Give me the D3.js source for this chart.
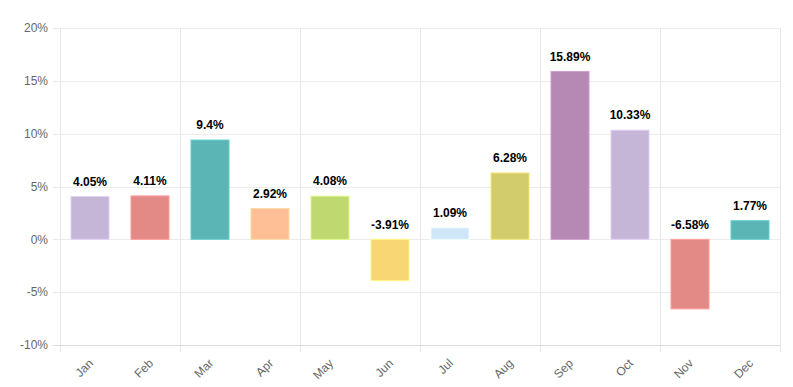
<!DOCTYPE html>
<html lang="en">
<head>
	<meta charset="utf-8">
	<title>monthly change</title>
	<style>
		html, body { margin: 0; padding: 0; background: #fff; }
		svg { display: block; font-family: "Liberation Sans", Arial, sans-serif; }
	</style>
</head>
<body>
	<script src="https://cdn.jsdelivr.net/npm/d3@7"></script>
	<script>

		const months = ["Jan", "Feb", "Mar", "Apr", "May", "Jun", "Jul", "Aug", "Sep", "Oct", "Nov", "Dec"];
		const values = [4.05, 4.11, 9.4, 2.92, 4.08, -3.91, 1.09, 6.28, 15.89, 10.33, -6.58, 1.77];
		const colors = ["#c5b6d8", "#e38a87", "#5bb5b5", "#ffbf94", "#bfd86f", "#f7d673",
			"#cfe6f8", "#d2cc6d", "#b688b4", "#c5b6d8", "#e38a87", "#5bb5b5"];
		const yTicks = [-10, -5, 0, 5, 10, 15, 20];

		const width = 793, height = 387;
		const plotLeft = 60, plotRight = 780, plotTop = 28, plotBottom = 345;

		const svg = d3.select(document.body)
			.append("svg")
			.attr("width", width)
			.attr("height", height);

		const x = d3.scaleBand()
			.domain(months)
			.range([plotLeft, plotRight])
			.paddingInner(0.366)
			.paddingOuter(0.183);

		const y = d3.scaleLinear()
			.domain([-10, 20])
			.range([plotBottom, plotTop]);

		// horizontal grid + y labels
		const gy = svg.append("g");
		gy.selectAll("line")
			.data(yTicks)
			.join("line")
			.attr("x1", plotLeft - 7)
			.attr("x2", plotRight)
			.attr("y1", (d) => Math.round(y(d)) + 0.5)
			.attr("y2", (d) => Math.round(y(d)) + 0.5)
			.attr("stroke", (d) => d === -10 ? "#dcdcdc" : "#ececec")
			.attr("stroke-width", 1);
		gy.selectAll("text")
			.data(yTicks)
			.join("text")
			.attr("x", plotLeft - 12)
			.attr("y", (d) => y(d))
			.attr("dy", "0.35em")
			.attr("text-anchor", "end")
			.attr("font-size", 12)
			.attr("fill", "#666")
			.text((d) => d + "%");

		// vertical grid every second month
		const step = x.step();
		const vx = d3.range(0, 13, 2).map((i) => plotLeft + i * step);
		svg.append("g").selectAll("line")
			.data(vx)
			.join("line")
			.attr("x1", (d) => Math.round(d) + 0.5)
			.attr("x2", (d) => Math.round(d) + 0.5)
			.attr("y1", plotTop)
			.attr("y2", plotBottom + 7)
			.attr("stroke", "#e6e6e6")
			.attr("stroke-width", 1);

		// bars
		svg.append("g").selectAll("rect")
			.data(values)
			.join("rect")
			.attr("x", (d, i) => x(months[i]))
			.attr("width", x.bandwidth())
			.attr("y", (d) => Math.min(y(d), y(0)))
			.attr("height", (d) => Math.abs(y(d) - y(0)))
			.attr("fill", (d, i) => colors[i])
			.attr("stroke", (d, i) => d3.color(colors[i]).brighter(0.4))
			.attr("stroke-width", 1);

		// value labels
		svg.append("g").selectAll("text")
			.data(values)
			.join("text")
			.attr("x", (d, i) => x(months[i]) + x.bandwidth() / 2)
			.attr("y", (d) => Math.min(y(d), y(0)) - 15)
			.attr("dy", "0.35em")
			.attr("text-anchor", "middle")
			.attr("font-size", 12)
			.attr("font-weight", "bold")
			.attr("fill", "#000")
			.text((d) => d + "%");

		// month labels
		svg.append("g").selectAll("text")
			.data(months)
			.join("text")
			.attr("transform", (d) => `translate(${x(d) + x.bandwidth() / 2 + 1},${plotBottom + 16}) rotate(-45)`)
			.attr("text-anchor", "end")
			.attr("dy", "0.35em")
			.attr("font-size", 12)
			.attr("fill", "#666")
			.text((d) => d);

	</script>
</body>
</html>
